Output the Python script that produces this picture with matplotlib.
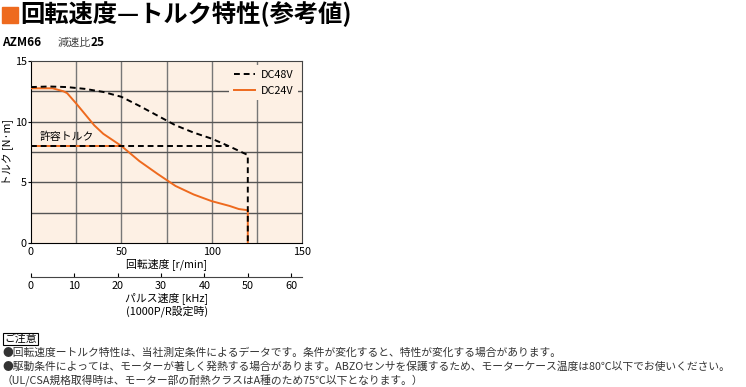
import numpy as np
import matplotlib.pyplot as plt
from matplotlib.patches import Rectangle

plt.rcParams['font.family'] = ['Noto Sans CJK JP', 'DejaVu Sans']

# data
speed_48 = [0, 10, 20, 30, 40, 50, 60, 70, 80, 90, 100, 110, 120, 120]
torque_48 = [12.85, 12.9, 12.85, 12.7, 12.45, 12.05, 11.3, 10.5, 9.7, 9.1, 8.6, 7.95, 7.25, 0]
speed_24 = [0, 5, 12, 18, 20, 25, 30, 35, 40, 45, 50, 60, 70, 75, 80, 90, 100, 110, 115, 120, 120]
torque_24 = [12.75, 12.75, 12.75, 12.5, 12.35, 11.5, 10.6, 9.7, 9.0, 8.5, 8.0, 6.75, 5.7, 5.2,
             4.7, 4.0, 3.45, 3.05, 2.8, 2.7, 0]
allow_torque = 8.0
allow_end = 109
pulse_ticks = [0, 10, 20, 30, 40, 50, 60]
notes = [
    "●回転速度ートルク特性は、当社測定条件によるデータです。条件が変化すると、特性が変化する場合があります。",
    "●駆動条件によっては、モーターが著しく発熱する場合があります。ABZOセンサを保護するため、モーターケース温度は80℃以下でお使いください。",
    "（UL/CSA規格取得時は、モーター部の耐熱クラスはA種のため75℃以下となります。）",
]

W, H = 746, 387
fig = plt.figure(figsize=(W / 100, H / 100), dpi=100)

def fx(px):
    return px / W

def fy(py):
    return 1 - py / H

orange = '#ee6a1e'

# title
fig.patches.append(Rectangle((fx(2), fy(23)), fx(16), 16 / H, transform=fig.transFigure,
                             color=orange))
fig.text(fx(20), fy(14), "回転速度—トルク特性(参考値)", fontsize=17.5, fontweight='bold',
         va='center', ha='left')
fig.text(fx(2), fy(43), "AZM66", fontsize=8.5, fontweight='bold', va='center')
fig.text(fx(58), fy(43), "減速比", fontsize=8, color='#444', va='center')
fig.text(fx(91), fy(43), "25", fontsize=8.5, fontweight='bold', va='center')

# main axes
left, right, top, bottom = 31, 302, 61, 243
ax = fig.add_axes([fx(left), fy(bottom), fx(right - left), (bottom - top) / H])
ax.set_facecolor('#fdf0e4')
ax.set_xlim(0, 150)
ax.set_ylim(0, 15)
for v in [25, 50, 75, 100, 125]:
    ax.axvline(v, color='#777', lw=1.0, zorder=1)
for v in [2.5, 5, 7.5, 10, 12.5]:
    ax.axhline(v, color='#555', lw=1.0, zorder=1)

ax.plot([0, 50], [allow_torque, allow_torque], color=orange, lw=1.4, zorder=3)
ax.plot(speed_24, torque_24, color=orange, lw=1.4, zorder=3, label='DC24V')
ax.plot(speed_48, torque_48, color='black', lw=1.4, ls=(0, (3, 2)), zorder=4, label='DC48V')
ax.plot([0, allow_end], [allow_torque, allow_torque], color='black', lw=1.4,
        ls=(0, (3, 2)), zorder=4)
ax.text(5, 8.35, "許容トルク", fontsize=7.8, va='bottom', ha='left', zorder=5)

handles, labels = ax.get_legend_handles_labels()
leg = ax.legend(handles[::-1], labels[::-1], loc='upper right', frameon=True, fontsize=7.8,
                handlelength=2.0, borderaxespad=0.4, labelspacing=0.55, handletextpad=0.5,
                fancybox=False, edgecolor='none', facecolor='#fdf0e4', framealpha=1)

ax.set_xticks([0, 50, 100, 150])
ax.set_yticks([0, 5, 10, 15])
ax.tick_params(axis='both', labelsize=7.8, length=2, width=0.8, pad=1)
ax.tick_params(axis='x', length=0, pad=3)
for s in ['left', 'bottom']:
    ax.spines[s].set_color('black')
for s in ['top', 'right']:
    ax.spines[s].set_color('#444')
ax.set_xlabel("回転速度 [r/min]", fontsize=7.8, labelpad=1)
fig.text(fx(8), fy(152), "トルク [N·m]", fontsize=7.8, rotation=90, ha='center', va='center')

# pulse speed axis
ax2 = fig.add_axes([fx(left), fy(277), fx(right - left), 0.001])
ax2.set_xlim(0, 150 * 25 / 60)
ax2.set_ylim(0, 1)
ax2.set_facecolor('none')
for s in ['left', 'right', 'top']:
    ax2.spines[s].set_visible(False)
ax2.spines['bottom'].set_color('#444')
ax2.set_yticks([])
ax2.set_xticks(pulse_ticks)
ax2.tick_params(axis='x', direction='in', length=3, width=0.8, labelsize=7.8, pad=3)
fig.text(fx(167), fy(298), "パルス速度 [kHz]", fontsize=7.8, ha='center', va='center')
fig.text(fx(167), fy(311), "(1000P/R設定時)", fontsize=7.8, ha='center', va='center')

# notes
fig.text(fx(4), fy(339), "ご注意", fontsize=7.8, va='center', ha='left',
         bbox=dict(boxstyle='square,pad=0.1', fc='white', ec='black', lw=0.8))
for i, line in enumerate(notes):
    fig.text(fx(2), fy(353 + 13.5 * i), line, fontsize=7.75, color='#333', va='center',
             ha='left')

fig.savefig('out.png', dpi=100)
